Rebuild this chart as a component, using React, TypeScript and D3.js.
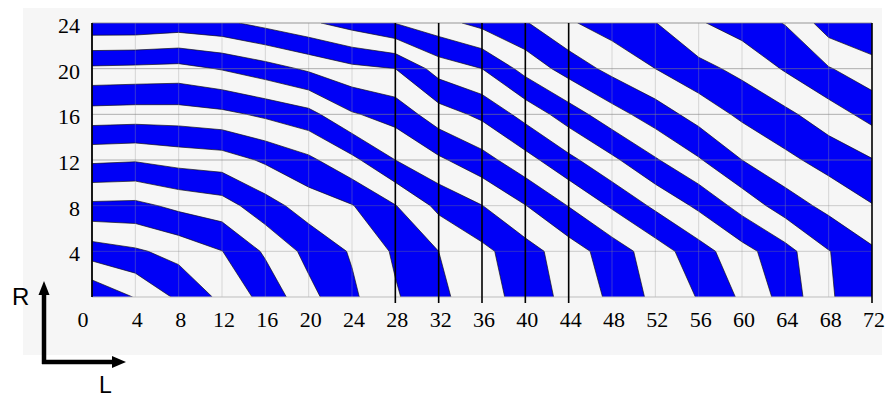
import React from 'react';
import * as d3 from 'd3';

// Sample positions along the L axis and the R axis
const lValues = [0, 4, 8, 12, 16, 20, 24, 28, 32, 36, 40, 44, 48, 52, 56, 60, 64, 68, 72];
const rValues = [0, 4, 8, 12, 16, 20, 24];

// Fringe order sampled at every (L, R) node, one array per R row
const fringeR0 = [0.1, 1.06, 2.2, 3.23, 4.34, 5.7, 6.82, 7.89, 8.78, 9.56, 10.4, 11.32, 12.19, 13.27, 14.06, 15.17, 16.38, 17.9, 18.6];
const fringeR4 = [2.51, 2.86, 3.33, 3.98, 5.14, 6.3, 7.1, 8.15, 9.0, 9.75, 10.6, 11.52, 12.49, 13.51, 14.59, 15.64, 16.65, 17.96, 18.85];
const fringeR8 = [4.78, 4.73, 5.25, 5.56, 6.61, 7.46, 7.95, 8.96, 10.25, 10.98, 11.97, 13.04, 14.13, 15.2, 16.2, 17.38, 18.5, 19.29, 19.95];
const fringeR12 = [7.19, 7.09, 7.38, 7.53, 8.15, 8.79, 9.75, 11.0, 11.83, 12.63, 13.64, 14.74, 15.79, 16.9, 17.9, 19.0, 19.76, 20.38, 20.95];
const fringeR16 = [9.59, 9.53, 9.55, 9.75, 10.19, 10.67, 11.9, 12.4, 13.54, 14.23, 15.35, 16.5, 17.6, 18.5, 19.4, 20.21, 20.78, 21.54, 22.34];
const fringeR20 = [11.82, 11.76, 11.68, 12.07, 12.57, 13.17, 13.74, 14.0, 15.42, 16.0, 17.35, 18.42, 19.3, 20.0, 20.7, 21.27, 22.1, 22.93, 23.61];
const fringeR24 = [14.8, 14.8, 14.6, 14.8, 15.31, 15.83, 16.42, 17.03, 17.66, 18.29, 18.92, 19.88, 20.45, 20.97, 21.9, 22.46, 23.05, 24.5, 24.9];

// Fringe boundaries (integer orders)
const fringeLevels = [1, 2, 3, 4, 5, 6, 7, 8, 9, 10, 11, 12, 13, 14, 15, 16, 17, 18, 19, 20, 21, 22, 23, 24, 25];

// Axis tick labels
const xTickLabels = ['0', '4', '8', '12', '16', '20', '24', '28', '32', '36', '40', '44', '48', '52', '56', '60', '64', '68', '72'];
const yTickLabels = ['4', '8', '12', '16', '20', '24'];
// Reference lines drawn in black
const darkLines = [28, 32, 36, 40, 44];

const W = 885;
const H = 398;
const M = { left: 92, right: 872, top: 23, bottom: 297 };
const BLUE = '#0000f6';
const PAPER = '#f6f6f6';
const SERIF = '"Liberation Serif", "Times New Roman", serif';
const SANS = '"Liberation Sans", Arial, sans-serif';

export default function App() {
  const x = d3.scaleLinear().domain([0, 72]).range([M.left, M.right]);
  const y = d3.scaleLinear().domain([0, 24]).range([M.bottom, M.top]);

  const nx = lValues.length;
  const ny = rValues.length;
  const rows = [fringeR0, fringeR4, fringeR8, fringeR12, fringeR16, fringeR20, fringeR24];
  const values = rows.flat();

  // grid cell centres (i + 0.5) map onto the sample positions
  const gx = d3.scaleLinear().domain([0.5, nx - 0.5]).range([lValues[0], lValues[nx - 1]]);
  const gy = d3.scaleLinear().domain([0.5, ny - 0.5]).range([rValues[0], rValues[ny - 1]]);
  const toScreen = d3.geoTransform({
    point(px: number, py: number) {
      (this as any).stream.point(x(gx(px)), y(gy(py)));
    },
  });
  const path = d3.geoPath(toScreen);
  const bands = d3.contours().size([nx, ny]).thresholds(fringeLevels)(values);

  const xTicks = lValues;
  const yTicks = rValues.slice(1);

  return (
    <svg
      width={W}
      height={H}
      viewBox={`0 0 ${W} ${H}`}
      style={{ position: 'absolute', left: 0, top: 0, background: '#ffffff' }}
    >
      <defs>
        <clipPath id="plot-clip">
          <rect x={M.left} y={M.top} width={M.right - M.left} height={M.bottom - M.top} />
        </clipPath>
      </defs>

      <rect x={23} y={8} width={859} height={347} fill={PAPER} />

      <g clipPath="url(#plot-clip)">
        <rect x={M.left} y={M.top} width={M.right - M.left} height={M.bottom - M.top} fill={BLUE} />
        {bands.map((b) => (
          <path
            key={b.value}
            d={path(b as any) || ''}
            fill={b.value % 2 === 1 ? PAPER : BLUE}
            stroke="#111"
            strokeOpacity={0.75}
            strokeWidth={0.9}
            strokeLinejoin="round"
          />
        ))}
      </g>

      {/* light grid */}
      {xTicks
        .filter((t) => t > 0 && t < 72 && !darkLines.includes(t))
        .map((t) => (
          <line key={`gx${t}`} x1={x(t)} x2={x(t)} y1={M.top} y2={M.bottom} stroke="#9a9a9a" strokeOpacity={0.35} />
        ))}
      {yTicks.map((t) => (
        <line
          key={`gy${t}`}
          x1={M.left}
          x2={M.right}
          y1={y(t)}
          y2={y(t)}
          stroke="#808080"
          strokeOpacity={t === 24 ? 0.8 : t >= 12 ? 0.6 : 0.35}
        />
      ))}
      <line x1={M.left} x2={M.right} y1={M.bottom} y2={M.bottom} stroke="#bdbdbd" />

      {/* black reference lines */}
      {darkLines.map((t) => (
        <line key={`dl${t}`} x1={x(t)} x2={x(t)} y1={M.top} y2={M.bottom + 6} stroke="#000" strokeWidth={1.6} />
      ))}
      <line x1={M.right} x2={M.right} y1={M.top} y2={M.bottom + 6} stroke="#000" strokeWidth={1.6} />
      <line x1={M.left} x2={M.left} y1={M.top} y2={M.bottom} stroke="#000" strokeWidth={1.8} />

      {/* tick labels */}
      {yTicks.map((t, i) => (
        <text
          key={`yl${t}`}
          x={80}
          y={y(t) + 10}
          textAnchor="end"
          fontFamily={SERIF}
          fontSize={22}
          fill="#000"
        >
          {yTickLabels[i]}
        </text>
      ))}
      {xTicks.map((t, i) => (
        <text
          key={`xl${t}`}
          x={x(t)}
          dx={i === 0 ? -9 : 2}
          y={327}
          textAnchor="middle"
          fontFamily={SERIF}
          fontSize={22}
          fill="#000"
        >
          {xTickLabels[i]}
        </text>
      ))}

      {/* axis direction arrows */}
      <line x1={44} x2={44} y1={364} y2={290} stroke="#000" strokeWidth={4.5} />
      <polygon points="44,281 38.5,295 49.5,295" fill="#000" />
      <line x1={42} x2={116} y1={362} y2={362} stroke="#000" strokeWidth={4.5} />
      <polygon points="126,362 112,356 112,368" fill="#000" />
      <text x={12} y={305} fontFamily={SANS} fontSize={24} fill="#000">
        R
      </text>
      <text x={99} y={393} fontFamily={SANS} fontSize={23} fill="#000">
        L
      </text>
    </svg>
  );
}
